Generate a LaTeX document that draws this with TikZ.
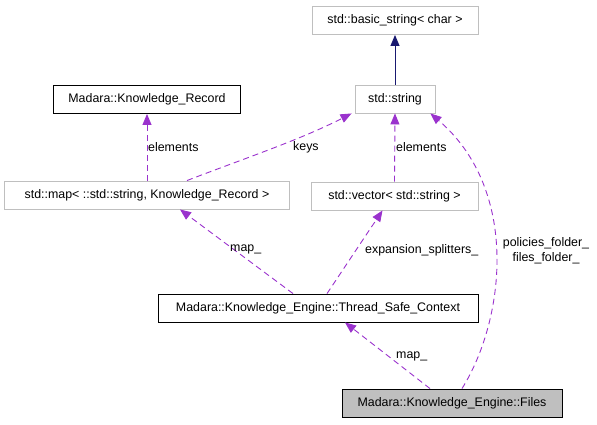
\documentclass[tikz,border=0pt]{standalone}
\usepackage{fontspec}
\setmainfont{Liberation Sans}
\usetikzlibrary{arrows.meta,positioning}
\definecolor{usepurple}{HTML}{9A32CD}
\definecolor{inhnavy}{HTML}{191970}
\definecolor{boxgrey}{HTML}{BFBFBF}

\begin{document}
\begin{tikzpicture}[x=1pt, y=-1pt,
    every node/.style={font=\fontsize{12.4}{15}\selectfont},
    cls/.style={draw=black, line width=0.9pt, minimum height=28pt, inner sep=0pt},
    extcls/.style={cls, draw=boxgrey},
    curcls/.style={cls, fill=boxgrey},
    usage/.style={draw=usepurple, line width=0.9pt, dash pattern=on 6pt off 4pt,
        -{Triangle[length=11pt, width=9pt, fill=usepurple, sep=0pt]}},
    inherit/.style={draw=inhnavy, line width=0.9pt,
        -{Triangle[length=11pt, width=9pt, fill=inhnavy]}},
    lbl/.style={inner sep=0pt, anchor=west}]
    \useasboundingbox (0,0) rectangle (597,424);

    % Classes
    \node[extcls, minimum width=166pt] (basic) at (395,20.5) {std::basic\_string< char >};
    \node[extcls, minimum width=80pt] (str) at (395,99) {std::string};
    \node[cls, minimum width=187pt] (rec) at (147,99.5) {Madara::Knowledge\_Record};
    \node[extcls, minimum width=285pt] (map) at (147,195) {std::map< ::std::string, Knowledge\_Record >};
    \node[extcls, minimum width=167pt] (vec) at (394.5,196) {std::vector< std::string >};
    \node[cls, minimum width=320pt] (tsc) at (318,308) {Madara::Knowledge\_Engine::Thread\_Safe\_Context};
    \node[curcls, minimum width=220pt] (files) at (452,403) {Madara::Knowledge\_Engine::Files};

    % Inheritance
    \draw[inherit] (str) -- (basic);

    % Usage relations
    \draw[usage] (map.north) -- (rec.south);
    \node[lbl] (lelem) at (148,147) {elements};

    \draw[usage] ([xshift=40pt]map.north) .. controls (240,160) and (300,140) .. ([xshift=-3pt]str.south west);
    \node[lbl] (lkeys) at (293,147) {keys};

    \draw[usage] (vec.north) -- (str.south);
    \node[lbl] (lelem2) at (396,147) {elements};

    \draw[usage] ([xshift=10pt]files.north) .. controls (505,320) and (520,190) .. ([xshift=-5pt]str.south east);
    \node[inner sep=0pt, align=center] (lfold) at (546,251) {policies\_folder\_\\files\_folder\_};

    \draw[usage] ([xshift=-25pt]tsc.north) -- ([xshift=33pt]map.south);
    \node[lbl] (lmap) at (230,249) {map\_};

    \draw[usage] ([xshift=9pt]tsc.north) -- ([xshift=-12pt]vec.south);
    \node[lbl] (lexp) at (365,250) {expansion\_splitters\_};

    \draw[usage] ([xshift=-22pt]files.north) -- ([xshift=27pt]tsc.south);
    \node[lbl] (lmap2) at (396,356) {map\_};
\end{tikzpicture}
\end{document}
